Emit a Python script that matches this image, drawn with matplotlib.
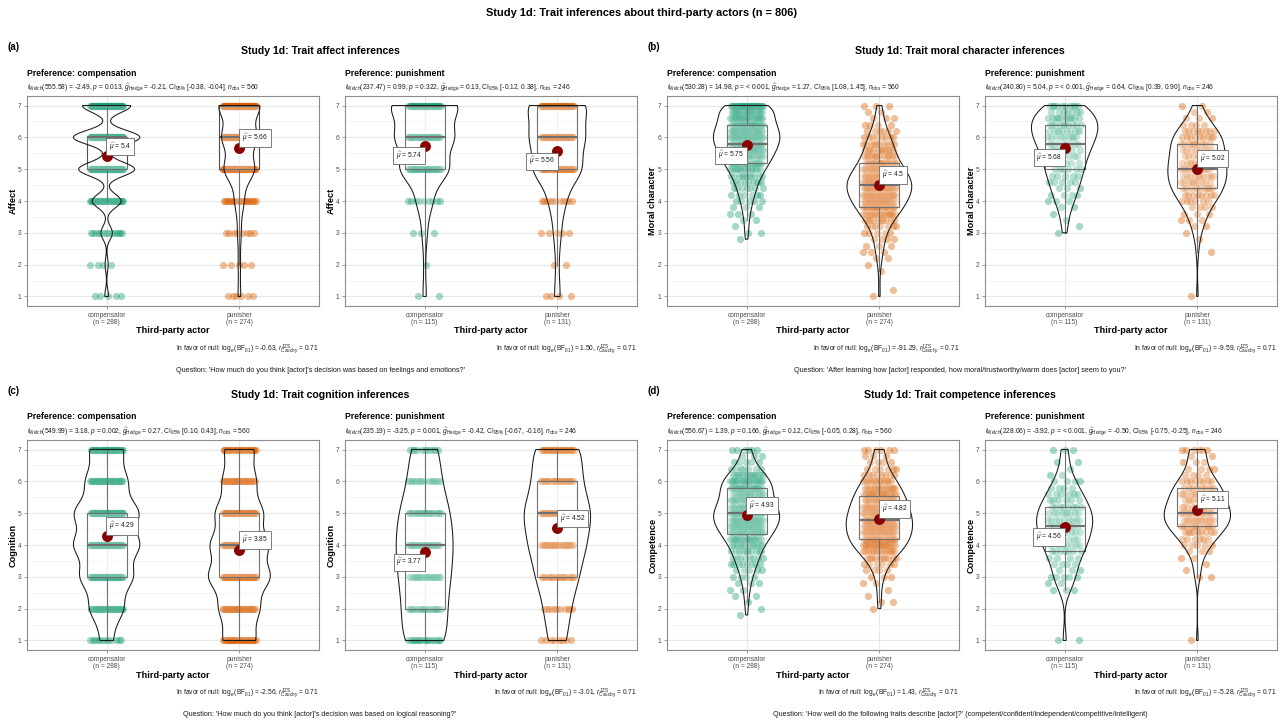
import numpy as np
import matplotlib
matplotlib.use("Agg")
import matplotlib.pyplot as plt
from matplotlib.patches import Rectangle

plt.rcParams['font.family'] = ['Liberation Sans', 'DejaVu Sans']
plt.rcParams['mathtext.fontset'] = 'custom'
plt.rcParams['mathtext.rm'] = 'Liberation Sans'
plt.rcParams['mathtext.it'] = 'Liberation Sans:italic'
plt.rcParams['mathtext.bf'] = 'Liberation Sans:bold'

# ---------------------------------------------------------------- data
groups = ["compensator", "punisher"]
preferences = ["compensation", "punishment"]
n_compensation = [288, 274]
n_punishment = [115, 131]
group_colors = ["#1B9E77", "#D95F02"]

int_levels = [1, 2, 3, 4, 5, 6, 7]
fine_levels = [1.0, 1.2, 1.4, 1.6, 1.8, 2.0, 2.2, 2.4, 2.6, 2.8, 3.0, 3.2, 3.4, 3.6, 3.8,
               4.0, 4.2, 4.4, 4.6, 4.8, 5.0, 5.2, 5.4, 5.6, 5.8, 6.0, 6.2, 6.4, 6.6, 6.8, 7.0]

# counts of responses at each level
affect_compensation_compensator = [5, 4, 15, 38, 74, 88, 64]
affect_compensation_punisher = [6, 5, 8, 20, 67, 76, 92]
affect_punishment_compensator = [2, 1, 3, 9, 28, 33, 39]
affect_punishment_punisher = [4, 2, 5, 11, 33, 36, 40]

cognition_compensation_compensator = [12, 32, 50, 62, 61, 39, 32]
cognition_compensation_punisher = [30, 36, 56, 52, 43, 30, 27]
cognition_punishment_compensator = [17, 16, 19, 21, 19, 12, 11]
cognition_punishment_punisher = [8, 11, 18, 24, 29, 20, 21]

moral_compensation_compensator = [0, 0, 0, 0, 0, 0, 0, 0, 0, 1, 2, 1, 2, 3, 3, 5, 6, 7, 9, 11, 14, 17, 20, 22, 24, 27, 24, 22, 20, 18, 30]
moral_compensation_punisher = [1, 1, 0, 0, 1, 1, 2, 3, 3, 4, 5, 7, 10, 14, 18, 20, 22, 25, 24, 22, 18, 14, 12, 11, 10, 8, 6, 4, 3, 2, 3]
moral_punishment_compensator = [0, 0, 0, 0, 0, 0, 0, 0, 0, 0, 1, 1, 1, 1, 2, 3, 4, 3, 5, 5, 6, 5, 7, 7, 8, 9, 10, 10, 10, 7, 10]
moral_punishment_punisher = [1, 0, 0, 0, 0, 0, 0, 1, 0, 1, 1, 2, 3, 3, 4, 6, 8, 9, 9, 10, 10, 9, 9, 8, 9, 9, 8, 4, 3, 2, 2]

competence_compensation_compensator = [0, 0, 0, 0, 1, 1, 1, 2, 2, 3, 4, 5, 8, 8, 10, 12, 15, 19, 21, 24, 25, 20, 18, 16, 19, 19, 14, 7, 5, 3, 6]
competence_compensation_punisher = [0, 0, 0, 0, 0, 1, 2, 1, 1, 2, 3, 4, 6, 10, 14, 19, 20, 21, 22, 22, 20, 19, 18, 16, 14, 12, 8, 6, 4, 3, 6]
competence_punishment_compensator = [2, 0, 0, 0, 0, 0, 0, 0, 3, 2, 5, 3, 4, 4, 7, 7, 7, 8, 9, 9, 9, 8, 6, 6, 4, 4, 2, 1, 2, 0, 3]
competence_punishment_punisher = [1, 0, 0, 0, 0, 0, 0, 0, 0, 0, 2, 1, 1, 2, 3, 5, 6, 9, 11, 12, 13, 10, 10, 10, 8, 8, 4, 4, 3, 2, 6]

# displayed group means
affect_means = [[5.4, 5.66], [5.74, 5.56]]
moral_means = [[5.75, 4.5], [5.68, 5.02]]
cognition_means = [[4.29, 3.85], [3.77, 4.52]]
competence_means = [[4.93, 4.82], [4.56, 5.11]]

# Welch t-test results: df, t, p, g, CI low, CI high, n_obs
affect_stats = [["555.58", "-2.49", "0.013", "-0.21", "-0.38", "-0.04", "560"],
                ["237.47", "0.99", "0.322", "0.13", "-0.12", "0.38", "246"]]
moral_stats = [["530.28", "14.98", "< 0.001", "1.27", "1.08", "1.45", "560"],
               ["240.80", "5.04", "< 0.001", "0.64", "0.39", "0.90", "246"]]
cognition_stats = [["549.99", "3.18", "0.002", "0.27", "0.10", "0.43", "560"],
                   ["235.19", "-3.25", "0.001", "-0.42", "-0.67", "-0.16", "246"]]
competence_stats = [["556.67", "1.39", "0.166", "0.12", "-0.05", "0.28", "560"],
                    ["228.06", "-3.92", "< 0.001", "-0.50", "-0.75", "-0.25", "246"]]

affect_bf = ["-0.63", "1.50"]
moral_bf = ["-91.29", "-9.59"]
cognition_bf = ["-2.56", "-3.01"]
competence_bf = ["1.43", "-5.28"]

# ---------------------------------------------------------------- layout
W, H = 1283, 723
fig = plt.figure(figsize=(W / 100, H / 100), dpi=100)


def ftext(x, y, s, **kw):
    return fig.text(x / W, 1 - y / H, s, **kw)


def nrd0(x):
    hi = np.std(x, ddof=1)
    q75, q25 = np.percentile(x, [75, 25])
    lo = min(hi, (q75 - q25) / 1.34)
    if lo <= 0:
        lo = hi if hi > 0 else 1.0
    return 0.9 * lo * len(x) ** -0.2


def kde(x, grid, bw):
    z = (grid[:, None] - x[None, :]) / bw
    return np.exp(-0.5 * z * z).sum(1) / (len(x) * bw * np.sqrt(2 * np.pi))


BOX_C = "#4D4D4D"


def draw_subplot(rect, levels, counts_pair, means, sides, ylabel, stats, bf, pref, ns):
    l, t, r, b = rect
    ax = fig.add_axes([l / W, 1 - b / H, (r - l) / W, (b - t) / H])
    ax.set_xlim(0.4, 2.6)
    ax.set_ylim(0.7, 7.3)
    ax.set_yticks(int_levels)
    ax.set_yticks([1.5, 2.5, 3.5, 4.5, 5.5, 6.5], minor=True)
    ax.set_xticks([1, 2])
    ax.set_xticklabels([f"{g}\n(n = {n})" for g, n in zip(groups, ns)],
                       linespacing=1.05)
    ax.grid(True, which="major", color="#E8E8E8", lw=0.8, zorder=0)
    ax.grid(True, which="minor", axis="y", color="#F3F3F3", lw=0.6, zorder=0)
    ax.set_axisbelow(True)
    for sp in ax.spines.values():
        sp.set_color("#8C8C8C")
        sp.set_linewidth(0.8)
    ax.tick_params(axis="both", which="major", length=2.5, width=0.6, color="#8C8C8C",
                   labelsize=4.8, labelcolor="#4D4D4D", pad=1.5)
    ax.tick_params(axis="both", which="minor", length=0)

    vals = [np.repeat(np.array(levels, float), c) for c in counts_pair]
    dens = []
    for v in vals:
        grid = np.linspace(v.min(), v.max(), 512)
        dens.append((grid, kde(v, grid, nrd0(v))))
    maxd = max(d.max() for _, d in dens)

    for i, v in enumerate(vals):
        pos = i + 1
        col = group_colors[i]
        # points
        offs = ((np.arange(len(v)) * 0.6180339887 + 0.3) % 1.0 - 0.5) * 0.25
        ax.scatter(pos + offs, v, s=27, color=col, alpha=0.4, linewidths=0, zorder=2)
        # box
        q1, med, q3 = np.percentile(v, [25, 50, 75])
        iqr = q3 - q1
        lo = v[v >= q1 - 1.5 * iqr].min()
        hi = v[v <= q3 + 1.5 * iqr].max()
        ax.add_patch(Rectangle((pos - 0.15, q1), 0.3, q3 - q1, facecolor=(1, 1, 1, 0.2),
                               edgecolor=BOX_C, lw=0.8, zorder=3))
        ax.plot([pos - 0.15, pos + 0.15], [med, med], color=BOX_C, lw=1.5, zorder=3,
                solid_capstyle="butt")
        ax.plot([pos, pos], [q3, hi], color=BOX_C, lw=0.8, zorder=3)
        ax.plot([pos, pos], [lo, q1], color=BOX_C, lw=0.8, zorder=3)
        # violin
        g, d = dens[i]
        hw = d / maxd * 0.25
        xs = np.concatenate([pos - hw, (pos + hw)[::-1]])
        ys = np.concatenate([g, g[::-1]])
        ax.fill(xs, ys, facecolor=(1, 1, 1, 0.2), edgecolor="#1A1A1A", lw=0.75, zorder=4)
        # mean
        m = means[i]
        ax.scatter([pos], [m], s=62, color="#8B0000", linewidths=0, zorder=6)
        if sides[i] == "ra":
            xyt, ha, va = (1.8, 2.8), "left", "bottom"
        else:
            xyt, ha, va = (-1.8, -2.8), "right", "top"
        ax.annotate(f"$\\widehat{{\\mu}}$ = {m}", (pos, m), xytext=xyt,
                    textcoords="offset points", ha=ha, va=va, fontsize=4.8,
                    color="#1A1A1A", zorder=7,
                    bbox=dict(boxstyle="square,pad=0.4", fc="white", ec="#666666", lw=0.6))

    # texts
    ftext(l, t - 23, f"Preference: {pref}", fontsize=6.2, fontweight="bold",
          ha="left", va="center")
    df, tv, p, gh, cl, ch, nobs = stats
    s = (f"$t_{{\\mathrm{{Welch}}}}$({df}) = {tv}, $p$ = {p}, "
         f"$\\widehat{{g}}_{{\\mathrm{{Hedge}}}}$ = {gh}, "
         f"CI$_{{95\\%}}$ [{cl}, {ch}], $n_{{\\mathrm{{obs}}}}$ = {nobs}")
    ftext(l, t - 9, s, fontsize=4.8, ha="left", va="center", color="#1A1A1A")
    ftext((l + r) / 2, b + 25, "Third-party actor", fontsize=6.6, fontweight="bold",
          ha="center", va="center")
    ftext(l - 14, (t + b) / 2, ylabel, fontsize=6.6, fontweight="bold", rotation=90,
          ha="center", va="center")
    bfs = (f"In favor of null: $\\log_{{e}}(\\mathrm{{BF}}_{{01}})$ = {bf}, "
           f"$r_{{\\mathrm{{Cauchy}}}}^{{\\mathrm{{JZS}}}}$ = 0.71")
    ftext(r, b + 43, bfs, fontsize=4.8, ha="right", va="center", color="#1A1A1A")
    return ax


quadrants = [
    ("(a)", "Study 1d: Trait affect inferences", "Affect", int_levels,
     [[affect_compensation_compensator, affect_compensation_punisher],
      [affect_punishment_compensator, affect_punishment_punisher]],
     affect_means, [["ra", "ra"], ["lb", "lb"]], affect_stats, affect_bf,
     "Question: 'How much do you think [actor]'s decision was based on feelings and emotions?'",
     0, 0),
    ("(b)", "Study 1d: Trait moral character inferences", "Moral character", fine_levels,
     [[moral_compensation_compensator, moral_compensation_punisher],
      [moral_punishment_compensator, moral_punishment_punisher]],
     moral_means, [["lb", "ra"], ["lb", "ra"]], moral_stats, moral_bf,
     "Question: 'After learning how [actor] responded, how moral/trustworthy/warm does [actor] seem to you?'",
     640, 0),
    ("(c)", "Study 1d: Trait cognition inferences", "Cognition", int_levels,
     [[cognition_compensation_compensator, cognition_compensation_punisher],
      [cognition_punishment_compensator, cognition_punishment_punisher]],
     cognition_means, [["ra", "ra"], ["lb", "ra"]], cognition_stats, cognition_bf,
     "Question: 'How much do you think [actor]'s decision was based on logical reasoning?'",
     0, 344),
    ("(d)", "Study 1d: Trait competence inferences", "Competence", fine_levels,
     [[competence_compensation_compensator, competence_compensation_punisher],
      [competence_punishment_compensator, competence_punishment_punisher]],
     competence_means, [["ra", "ra"], ["lb", "ra"]], competence_stats, competence_bf,
     "Question: 'How well do the following traits describe [actor]?' (competent/confident/independent/competitive/intelligent)",
     640, 344),
]

sub_x = [(27, 319), (345, 637)]
for tag, qtitle, ylab, levels, counts, means, sides, stats, bf, question, dx, dy in quadrants:
    ftext(8 + dx, 47 + dy, tag, fontsize=7, fontweight="bold", ha="left", va="center")
    ftext(320 + dx, 51 + dy, qtitle, fontsize=7.6, fontweight="bold", ha="center", va="center")
    for j in range(2):
        l, r = sub_x[j]
        ns = n_compensation if j == 0 else n_punishment
        draw_subplot((l + dx, 96 + dy, r + dx, 306 + dy), levels, counts[j], means[j],
                     sides[j], ylab, stats[j], bf[j], preferences[j], ns)
    ftext(320 + dx, 371 + dy, question, fontsize=5.2, ha="center", va="center",
          color="#1A1A1A")

ftext(641, 13, "Study 1d: Trait inferences about third-party actors (n = 806)",
      fontsize=7.9, fontweight="bold", ha="center", va="center")

fig.savefig("out.png", dpi=100, facecolor="white")
